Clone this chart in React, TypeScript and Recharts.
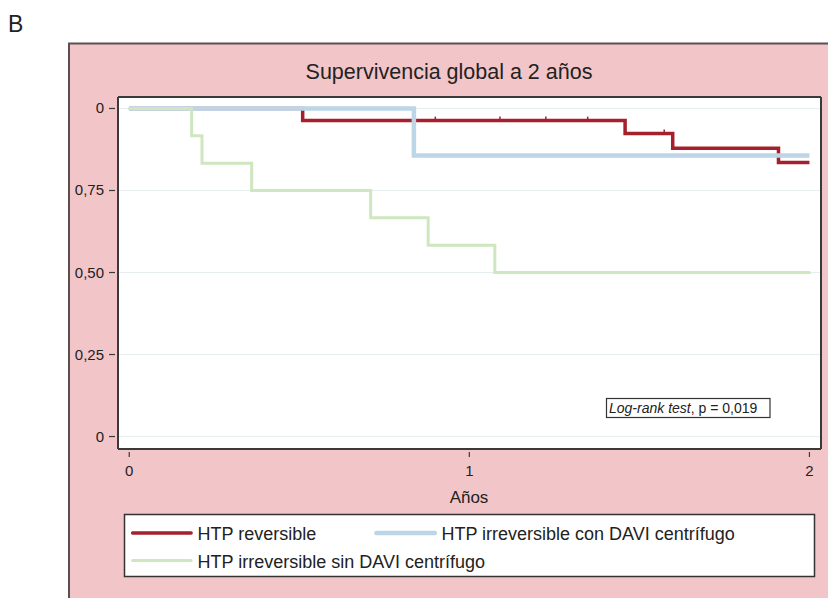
import React from 'react';
import { ComposedChart, Line, XAxis, YAxis, CartesianGrid } from 'recharts';

// ---- data ----
const redTimes = [0, 0.51, 0.9, 1.09, 1.225, 1.348, 1.458, 1.573, 1.598, 1.909, 2.0];
const redSurv = [1, 0.963, 0.963, 0.963, 0.963, 0.963, 0.924, 0.924, 0.879, 0.835, 0.835];
const redCensored = [false, false, true, true, true, true, false, true, false, false, false];

const blueTimes = [0, 0.837, 2.0];
const blueSurv = [1, 0.857, 0.857];

const greenTimes = [0, 0.1835, 0.214, 0.36, 0.71, 0.879, 1.075, 2.0];
const greenSurv = [1, 0.9167, 0.8333, 0.75, 0.6667, 0.5833, 0.5, 0.5];

const xTicks = [0, 1, 2];
const xTickLabels = ['0', '1', '2'];
const yTicks = [0, 0.25, 0.5, 0.75, 1];
const yTickLabels = ['0', '0,25', '0,50', '0,75', '0'];

const seriesNames = [
  'HTP reversible',
  'HTP irreversible con DAVI centrífugo',
  'HTP irreversible sin DAVI centrífugo',
];
const seriesColors = ['#a51f2d', '#bcd5e7', '#cfe7c0'];
const seriesWidths = [3.5, 4.5, 3];

const title = 'Supervivencia global a 2 años';
const xTitle = 'Años';
const panelLetter = 'B';

const FONT = '"Liberation Sans", Arial, Helvetica, sans-serif';
const PINK = '#f2c5c9';
const INK = '#222';
const FRAME = '#3a3a3a';

const redData = redTimes.map((t, i) => ({ t, s: redSurv[i], c: redCensored[i] }));
const blueData = blueTimes.map((t, i) => ({ t, s: blueSurv[i] }));
const greenData = greenTimes.map((t, i) => ({ t, s: greenSurv[i] }));

const X_DOMAIN: [number, number] = [-0.033, 2.034];
const Y_DOMAIN: [number, number] = [-0.038, 1.035];

const YTick = (p: any) => {
  const idx = yTicks.indexOf(p.payload.value);
  return (
    <g>
      <line x1={p.x - 9} x2={p.x - 3} y1={p.y} y2={p.y} stroke={FRAME} strokeWidth={1.2} />
      <text x={p.x - 14} y={p.y} dy={5} textAnchor="end" fontSize={15} fontFamily={FONT} fill={INK}>
        {idx >= 0 ? yTickLabels[idx] : ''}
      </text>
    </g>
  );
};

const XTick = (p: any) => {
  const idx = xTicks.indexOf(p.payload.value);
  return (
    <g>
      <line x1={p.x} x2={p.x} y1={p.y + 3} y2={p.y + 8} stroke={FRAME} strokeWidth={1.2} />
      <text x={p.x} y={p.y + 27} textAnchor="middle" fontSize={15} fontFamily={FONT} fill={INK}>
        {idx >= 0 ? xTickLabels[idx] : ''}
      </text>
    </g>
  );
};

const CensorDot = (p: any) => {
  if (!p.payload || !p.payload.c) return <g key={`d${p.index}`} />;
  return (
    <line
      key={`d${p.index}`}
      x1={p.cx}
      x2={p.cx}
      y1={p.cy - 4}
      y2={p.cy}
      stroke={seriesColors[0]}
      strokeWidth={1.5}
    />
  );
};

export default function App() {
  return (
    <div
      style={{
        position: 'absolute',
        left: 0,
        top: 0,
        width: 828,
        height: 598,
        overflow: 'hidden',
        background: '#fff',
        fontFamily: FONT,
      }}
    >
      <svg width={828} height={598} style={{ position: 'absolute', left: 0, top: 0 }}>
        <rect x={69} y={43.5} width={800} height={600} fill={PINK} stroke="#5b4f50" strokeWidth={2} />
      </svg>
      <div style={{ position: 'absolute', left: 0, top: 0 }}>
        <ComposedChart width={828} height={598} margin={{ top: 96, right: 6, bottom: 109, left: 68 }}>
          <CartesianGrid vertical={false} stroke="#e6eef0" strokeWidth={1} fill="#ffffff" />
          <XAxis
            dataKey="t"
            type="number"
            domain={X_DOMAIN}
            allowDataOverflow
            ticks={xTicks}
            tick={XTick}
            tickLine={false}
            tickSize={0}
            tickMargin={0}
            height={40}
            axisLine={{ stroke: FRAME, strokeWidth: 2 }}
          />
          <XAxis
            xAxisId="top"
            orientation="top"
            type="number"
            domain={X_DOMAIN}
            allowDataOverflow
            tick={false}
            tickLine={false}
            height={1}
            axisLine={{ stroke: FRAME, strokeWidth: 2 }}
          />
          <YAxis
            type="number"
            domain={Y_DOMAIN}
            allowDataOverflow
            ticks={yTicks}
            tick={YTick}
            tickLine={false}
            tickSize={0}
            tickMargin={0}
            width={50}
            axisLine={{ stroke: FRAME, strokeWidth: 2 }}
          />
          <YAxis
            yAxisId="right"
            orientation="right"
            type="number"
            domain={Y_DOMAIN}
            allowDataOverflow
            tick={false}
            tickLine={false}
            width={1}
            axisLine={{ stroke: FRAME, strokeWidth: 2 }}
          />
          <Line
            data={redData}
            dataKey="s"
            type="stepAfter"
            stroke={seriesColors[0]}
            strokeWidth={seriesWidths[0]}
            dot={CensorDot}
            activeDot={false}
            isAnimationActive={false}
            name={seriesNames[0]}
          />
          <Line
            data={blueData}
            dataKey="s"
            type="stepAfter"
            stroke={seriesColors[1]}
            strokeWidth={seriesWidths[1]}
            dot={false}
            activeDot={false}
            isAnimationActive={false}
            name={seriesNames[1]}
          />
          <Line
            data={greenData}
            dataKey="s"
            type="stepAfter"
            stroke={seriesColors[2]}
            strokeWidth={seriesWidths[2]}
            strokeLinecap="round"
            dot={false}
            activeDot={false}
            isAnimationActive={false}
            name={seriesNames[2]}
          />
        </ComposedChart>
      </div>
      <svg width={828} height={598} style={{ position: 'absolute', left: 0, top: 0, pointerEvents: 'none' }}>
        <text x={8} y={32} fontSize={23} fontFamily={FONT} fill={INK}>
          {panelLetter}
        </text>
        <text x={449} y={79} textAnchor="middle" fontSize={21.5} fontFamily={FONT} fill={INK}>
          {title}
        </text>
        <text x={469} y={503} textAnchor="middle" fontSize={17} fontFamily={FONT} fill={INK}>
          {xTitle}
        </text>
        <rect x={606.5} y={398.5} width={163.5} height={19} fill="#fff" stroke="#333" strokeWidth={1.2} />
        <text x={609} y={413} fontSize={14} fontFamily={FONT} fill={INK}>
          <tspan fontStyle="italic">Log-rank test</tspan>
          <tspan>, p = 0,019</tspan>
        </text>
        <rect x={124.5} y={514.5} width={690} height={62} fill="#fff" stroke="#333" strokeWidth={1.5} />
        {[
          { sx: 132.6, ty: 540 },
          { sx: 376.4, ty: 540 },
          { sx: 132.6, ty: 567.5 },
        ].map((pos, i) => (
          <g key={i}>
            <line
              x1={pos.sx}
              x2={pos.sx + 58.5}
              y1={pos.ty - 7}
              y2={pos.ty - 7}
              stroke={seriesColors[i]}
              strokeWidth={seriesWidths[i]}
              strokeLinecap="round"
            />
            <text x={pos.sx + 65} y={pos.ty} fontSize={18} fontFamily={FONT} fill={INK}>
              {seriesNames[i]}
            </text>
          </g>
        ))}
      </svg>
    </div>
  );
}
